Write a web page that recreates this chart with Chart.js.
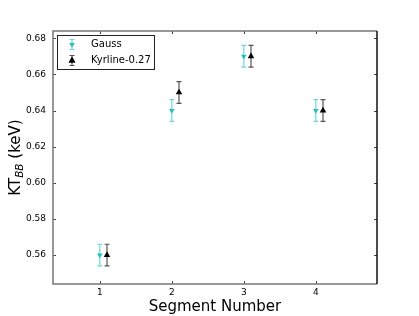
<!DOCTYPE html>
<html>
<head>
<meta charset="utf-8">
<script src="https://cdn.jsdelivr.net/npm/chart.js@4.4.1/dist/chart.umd.min.js"></script>
<style>
html,body{margin:0;padding:0;background:#fff;}
#wrap{width:419px;height:316px;position:relative;}
</style>
</head>
<body>
<div id="wrap"><canvas id="c" width="419" height="316"></canvas></div>
<script>
const segments = [1, 2, 3, 4];
const kyrOffset = 0.1;
const gaussValues = [0.56, 0.64, 0.67, 0.64];
const gaussErrors = [0.006, 0.006, 0.006, 0.006];
const kyrValues = [0.56, 0.65, 0.67, 0.64];
const kyrErrors = [0.006, 0.006, 0.006, 0.006];
const xTicks = [1, 2, 3, 4];
const yTicks = [0.56, 0.58, 0.60, 0.62, 0.64, 0.66, 0.68];
const seriesNames = ['Gauss', 'Kyrline-0.27'];

const gaussColor = '#22bfbf';
const gaussErrColor = '#6fd8d8';
const kyrColor = '#000000';
const kyrErrColor = '#555555';

const gaussData = segments.map((s, i) => ({x: s, y: gaussValues[i], e: gaussErrors[i]}));
const kyrData = segments.map((s, i) => ({x: s + kyrOffset, y: kyrValues[i], e: kyrErrors[i]}));

const errorBarPlugin = {
  id: 'errorBars',
  beforeDatasetsDraw(chart) {
    const ctx = chart.ctx;
    const ys = chart.scales.y, xs = chart.scales.x;
    chart.data.datasets.forEach((ds) => {
      ctx.save();
      ctx.strokeStyle = ds.errColor;
      ctx.lineWidth = 1.2;
      ds.data.forEach(p => {
        const px = xs.getPixelForValue(p.x);
        const y1 = ys.getPixelForValue(p.y + p.e);
        const y2 = ys.getPixelForValue(p.y - p.e);
        ctx.beginPath();
        ctx.moveTo(px, y1); ctx.lineTo(px, y2);
        ctx.moveTo(px - 2.5, y1); ctx.lineTo(px + 2.5, y1);
        ctx.moveTo(px - 2.5, y2); ctx.lineTo(px + 2.5, y2);
        ctx.stroke();
      });
      ctx.restore();
    });
  }
};

const framePlugin = {
  id: 'frame',
  afterDraw(chart) {
    const ctx = chart.ctx;
    const a = chart.chartArea;
    const xs = chart.scales.x, ys = chart.scales.y;
    ctx.save();
    // ticks inward on all sides
    ctx.strokeStyle = '#444';
    ctx.lineWidth = 1;
    ctx.beginPath();
    xTicks.forEach(v => {
      const px = Math.round(xs.getPixelForValue(v)) + 0.5;
      ctx.moveTo(px, a.bottom); ctx.lineTo(px, a.bottom - 3);
      ctx.moveTo(px, a.top); ctx.lineTo(px, a.top + 3);
    });
    yTicks.forEach(v => {
      const py = Math.round(ys.getPixelForValue(v)) + 0.5;
      ctx.moveTo(a.left, py); ctx.lineTo(a.left + 3, py);
      ctx.moveTo(a.right, py); ctx.lineTo(a.right - 3, py);
    });
    ctx.stroke();
    // frame
    ctx.lineWidth = 1.5;
    ctx.strokeStyle = '#777';
    ctx.beginPath();
    ctx.moveTo(a.right, a.top); ctx.lineTo(a.left, a.top); ctx.lineTo(a.left, a.bottom); ctx.lineTo(a.right, a.bottom);
    ctx.stroke();
    ctx.strokeStyle = '#111';
    ctx.beginPath();
    ctx.moveTo(a.right, a.top); ctx.lineTo(a.right, a.bottom);
    ctx.stroke();

    // legend
    const lx = a.left + 4.5, ly = a.top + 4.5, lw = 97, lh = 34;
    ctx.lineWidth = 1;
    ctx.strokeStyle = '#222';
    ctx.fillStyle = '#fff';
    ctx.fillRect(lx, ly, lw, lh);
    ctx.strokeRect(lx, ly, lw, lh);
    const rows = [
      {name: seriesNames[0], y: ly + 9, color: gaussColor, err: gaussErrColor, rot: 180, r: 3.2},
      {name: seriesNames[1], y: ly + 25, color: kyrColor, err: kyrErrColor, rot: 0, r: 3.8}
    ];
    rows.forEach(r => {
      const mx = a.left + 19;
      ctx.strokeStyle = r.err;
      ctx.lineWidth = 1.2;
      ctx.beginPath();
      ctx.moveTo(mx, r.y - 5); ctx.lineTo(mx, r.y + 5);
      ctx.moveTo(mx - 2.5, r.y - 5); ctx.lineTo(mx + 2.5, r.y - 5);
      ctx.moveTo(mx - 2.5, r.y + 5); ctx.lineTo(mx + 2.5, r.y + 5);
      ctx.stroke();
      Chart.helpers.drawPoint(ctx, {pointStyle: 'triangle', radius: r.r, rotation: r.rot, borderWidth: 0}, mx, r.y);
      ctx.fillStyle = r.color;
      ctx.fill();
      ctx.fillStyle = '#000';
      ctx.font = '10px "DejaVu Sans"';
      ctx.textAlign = 'left';
      ctx.textBaseline = 'middle';
      ctx.fillText(r.name, a.left + 38, r.y);
    });

    // axis titles
    ctx.fillStyle = '#000';
    ctx.font = '15px "DejaVu Sans"';
    ctx.textAlign = 'center';
    ctx.textBaseline = 'alphabetic';
    ctx.fillText('Segment Number', (a.left + a.right) / 2, 311);

    ctx.translate(20, (a.top + a.bottom) / 2);
    ctx.rotate(-Math.PI / 2);
    const p1 = 'KT', p2 = 'BB', p3 = ' (keV)';
    ctx.font = '15px "DejaVu Sans"';
    const w1 = ctx.measureText(p1).width;
    const w3 = ctx.measureText(p3).width;
    ctx.font = 'italic 10.5px "DejaVu Sans"';
    const w2 = ctx.measureText(p2).width;
    let sx = -(w1 + w2 + w3) / 2;
    ctx.textAlign = 'left';
    ctx.font = '15px "DejaVu Sans"';
    ctx.fillText(p1, sx, 0);
    ctx.font = 'italic 10.5px "DejaVu Sans"';
    ctx.fillText(p2, sx + w1, 3);
    ctx.font = '15px "DejaVu Sans"';
    ctx.fillText(p3, sx + w1 + w2, 0);
    ctx.restore();
  }
};

new Chart(document.getElementById('c'), {
  type: 'scatter',
  data: {
    datasets: [
      {label: seriesNames[0], data: gaussData, errColor: gaussErrColor,
       pointStyle: 'triangle', rotation: 180, pointRadius: 3.2,
       backgroundColor: gaussColor, borderColor: gaussColor, borderWidth: 0},
      {label: seriesNames[1], data: kyrData, errColor: kyrErrColor,
       pointStyle: 'triangle', pointRadius: 3.8,
       backgroundColor: kyrColor, borderColor: kyrColor, borderWidth: 0}
    ]
  },
  options: {
    responsive: false,
    animation: false,
    events: [],
    layout: {padding: {left: 0, right: 42, top: 31, bottom: 0}},
    plugins: {legend: {display: false}, tooltip: {enabled: false}},
    scales: {
      x: {
        type: 'linear', min: 0.35, max: 4.85,
        grid: {display: false, drawTicks: false, tickLength: 0}, border: {display: false},
        afterBuildTicks: s => { s.ticks = xTicks.map(v => ({value: v})); },
        afterFit: s => { s.height = 32; },
        ticks: {color: '#000', padding: 3, maxRotation: 0, font: {family: 'DejaVu Sans', size: 9},
                callback: v => String(v)}
      },
      y: {
        type: 'linear', min: 0.544, max: 0.684,
        grid: {display: false, drawTicks: false, tickLength: 0}, border: {display: false},
        afterBuildTicks: s => { s.ticks = yTicks.map(v => ({value: v})); },
        afterFit: s => { s.width = 53; },
        ticks: {color: '#000', padding: 7, font: {family: 'DejaVu Sans', size: 9},
                callback: v => Number(v).toFixed(2)}
      }
    }
  },
  plugins: [errorBarPlugin, framePlugin]
});
</script>
</body>
</html>
